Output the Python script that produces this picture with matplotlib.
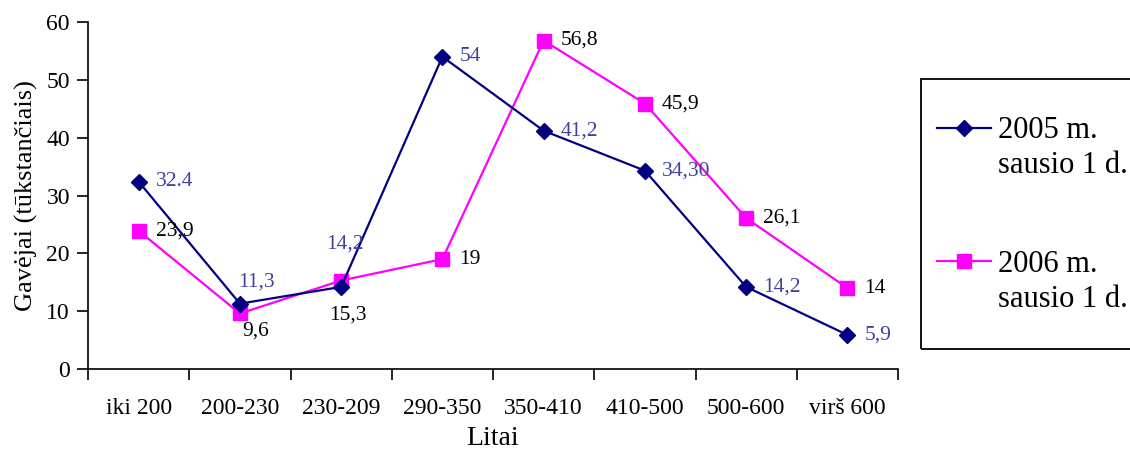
import matplotlib.pyplot as plt
import matplotlib.patches as patches
from matplotlib.lines import Line2D
import numpy as np

plt.rcParams['font.family'] = ['Liberation Serif', 'DejaVu Serif']

# data
categories = ["iki 200", "200-230", "230-209", "290-350", "350-410", "410-500", "500-600", "virš 600"]
values_2005 = [32.4, 11.3, 14.2, 54, 41.2, 34.3, 14.2, 5.9]
labels_2005 = ["32.4", "11,3", "14,2", "54", "41,2", "34,30", "14,2", "5,9"]
values_2006 = [23.9, 9.6, 15.3, 19, 56.8, 45.9, 26.1, 14]
labels_2006 = ["23,9", "9,6", "15,3", "19", "56,8", "45,9", "26,1", "14"]
legend_2005 = ["2005 m.", "sausio 1 d."]
legend_2006 = ["2006 m.", "sausio 1 d."]

# label offsets in pixels (default: right of the point)
default_off = (17, 0)
off_2005 = {1: (-2, 22), 2: (-15, 43)}
off_2006 = {1: (2, -18), 2: (-12, -35)}

W, H = 1130, 453
fig = plt.figure(figsize=(W / 100, H / 100), dpi=100)
ax = fig.add_axes([0.0779, 0.1854, 0.7168, 0.766])

x = np.arange(len(categories))
ax.plot(x, values_2005, color='#000080', lw=1.6, marker='D', ms=8, zorder=3)
ax.plot(x, values_2006, color='#ff00ff', lw=1.6, marker='s', ms=10, zorder=2)

for i, (v, t) in enumerate(zip(values_2005, labels_2005)):
    ax.annotate(t, (x[i], v), xytext=off_2005.get(i, default_off), textcoords='offset pixels',
                ha='left', va='center', fontsize=15.5, color='#4040a0')
for i, (v, t) in enumerate(zip(values_2006, labels_2006)):
    ax.annotate(t, (x[i], v), xytext=off_2006.get(i, default_off), textcoords='offset pixels',
                ha='left', va='center', fontsize=15.5, color='black')

ax.set_xlim(-0.5, len(categories) - 0.5)
ax.set_ylim(0, 60)
ax.set_yticks(range(0, 61, 10))
ax.set_xticks(np.arange(-0.5, len(categories), 1))
ax.set_xticklabels([])
ax.set_xticks(x, minor=True)
ax.set_xticklabels(categories, minor=True)
ax.tick_params(axis='x', which='major', direction='out', length=8, width=1.2)
ax.tick_params(axis='x', which='minor', length=0, pad=21, labelsize=17)
ax.tick_params(axis='y', direction='out', length=8, width=1.2, labelsize=17, pad=5)

for s in ['top', 'right']:
    ax.spines[s].set_visible(False)
for s in ['left', 'bottom']:
    ax.spines[s].set_linewidth(1.2)

ax.set_xlabel("Litai", fontsize=20, labelpad=5)
ax.set_ylabel("Gavėjai (tūkstančiais)", fontsize=19, labelpad=6)

# legend, drawn by hand (Excel style: handle beside the first line)
fig.patches.append(patches.Rectangle((921 / W, 1 - 349 / H), 0.3, 270 / H,
                                     transform=fig.transFigure, fill=False,
                                     edgecolor='black', lw=1.3))
entries = [(legend_2005, '#000080', 'D', 8, 128, 138),
           (legend_2006, '#ff00ff', 's', 10, 261, 272)]
for lines, col, mk, ms, yh, yb in entries:
    fig.add_artist(Line2D([937 / W, 964 / W, 991 / W], [1 - yh / H] * 3, color=col, lw=1.6,
                          marker=mk, ms=ms, markevery=[1], transform=fig.transFigure))
    for j, t in enumerate(lines):
        fig.text(998 / W, 1 - (yb + 35 * j) / H, t, fontsize=22, va='baseline', ha='left')

fig.savefig("out.png", dpi=100)
